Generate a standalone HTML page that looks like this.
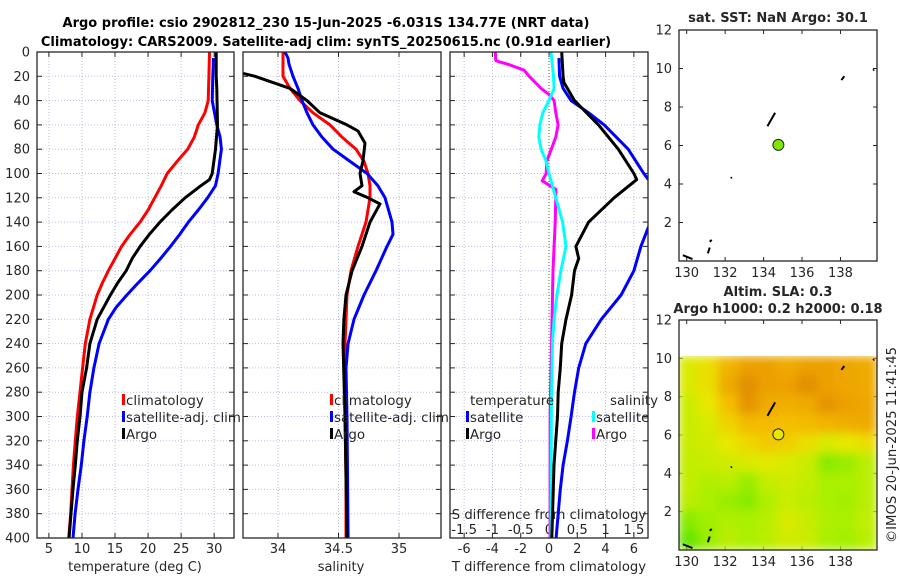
<!DOCTYPE html>
<html><head><meta charset="utf-8">
<style>
html,body{margin:0;padding:0;background:#fff;}
svg{display:block;font-family:"DejaVu Sans","Liberation Sans",sans-serif;}
</style></head>
<body>
<svg id="fig" width="900" height="580" viewBox="0 0 900 580" xmlns="http://www.w3.org/2000/svg">
<defs>
<clipPath id="c1"><rect x="37" y="52" width="197" height="486"/></clipPath>
<clipPath id="c2"><rect x="243" y="52" width="198" height="486"/></clipPath>
<clipPath id="c3"><rect x="450" y="52" width="198" height="486"/></clipPath>
<clipPath id="cm2"><rect x="679" y="356" width="198" height="194"/></clipPath>
<filter id="blur" x="0" y="0" width="1" height="1"><feGaussianBlur stdDeviation="5" edgeMode="duplicate"/></filter>
</defs>
<text x="326" y="27" text-anchor="middle" font-weight="bold" font-size="13">Argo profile: csio 2902812_230 15-Jun-2025 -6.031S 134.77E (NRT data)</text>
<text x="326" y="46" text-anchor="middle" font-weight="bold" font-size="13">Climatology: CARS2009. Satellite-adj clim: synTS_20250615.nc (0.91d earlier)</text>
<g id="g"></g>
</svg>
<script>
const depthTicks=[0,20,40,60,80,100,120,140,160,180,200,220,240,260,280,300,320,340,360,380,400];
const tTicks=[5,10,15,20,25,30];
const sTicks=[34,34.5,35];
const dtTicks=[-6,-4,-2,0,2,4,6];
const dsTicks=[-1.5,-1,-0.5,0,0.5,1,1.5];
const dsLabels=["-1.5","-1","-0.5","0","0.5","1","1.5"];

const climTDepth=[0,20,40,50,60,70,80,90,100,110,120,130,140,150,160,170,180,190,200,220,240,260,280,300,320,340,360,380,400];
const climT=[29.3,29.2,29.1,28.6,27.6,27.0,26.0,24.4,22.9,22.0,21.0,20.0,18.8,17.3,16.0,15.0,14.0,13.1,12.3,11.2,10.5,10.1,9.7,9.3,9.0,8.7,8.5,8.3,8.0];
const satTDepth=[5,20,40,60,70,80,100,110,120,130,140,150,160,170,180,190,200,210,220,240,260,280,300,320,340,360,380,400];
const satT=[29.9,29.8,29.7,30.4,30.9,31.1,30.6,30.2,29.0,27.6,26.1,24.8,23.4,21.9,20.3,18.5,16.8,15.2,14.0,12.6,11.8,11.2,10.8,10.3,9.9,9.4,8.96,8.65];
const argoTDepth=[0,20,30,60,80,100,105,110,120,130,140,150,160,170,180,190,200,220,240,260,280,300,320,340,360,380,400];
const argoT=[30.3,30.3,30.4,30.5,30.2,29.7,29.3,28.0,25.6,23.6,21.8,20.2,18.8,17.6,16.7,15.4,14.3,12.3,11.2,10.7,10.0,9.7,9.3,9.0,8.65,8.35,8.05];

const climSDepth=[0,20,30,40,50,60,70,80,90,100,110,120,140,160,180,200,220,240,260,280,300,350,400];
const climS=[34.041,34.041,34.099,34.182,34.289,34.430,34.529,34.645,34.711,34.744,34.760,34.760,34.727,34.661,34.603,34.570,34.562,34.554,34.554,34.554,34.554,34.562,34.562];
const satSDepth=[0,5,10,20,30,40,50,60,70,80,90,100,110,120,140,150,160,180,200,220,240,260,300,400];
const satS=[34.058,34.083,34.091,34.124,34.165,34.198,34.240,34.289,34.364,34.455,34.595,34.736,34.826,34.884,34.942,34.950,34.901,34.810,34.711,34.628,34.579,34.562,34.570,34.579];
const argoSDepth=[16,20,30,40,50,60,65,75,90,100,110,115,120,125,140,160,180,200,220,240,300,400];
const argoS=[33.645,33.810,34.099,34.240,34.347,34.570,34.661,34.719,34.702,34.678,34.694,34.628,34.744,34.843,34.760,34.694,34.612,34.562,34.545,34.537,34.554,34.570];

const dTArgoDepth=[0,20,25,40,60,80,100,105,120,140,160,170,180,200,220,240,260,280,300,340,400];
const dTArgo=[0.9,1.0,1.05,1.8,3.5,4.9,6.0,6.2,4.6,2.8,1.9,2.1,1.8,1.6,1.2,0.9,0.8,0.65,0.6,0.35,0.2];
const dTSatDepth=[5,20,30,40,50,60,80,100,106,125,145,160,180,200,220,240,260,280,300,320,340,360,400];
const dTSat=[0.7,0.75,1.0,1.56,2.8,3.9,5.6,6.7,7.1,7.8,7.0,6.5,6.0,5.1,3.7,2.6,2.1,1.8,1.56,1.3,1.0,0.8,0.5];
const dSSatDepth=[0,20,30,40,50,60,70,80,90,100,120,140,160,180,200,220,240,300,400];
const dSSat=[0.035,0.08,0.09,0.0,-0.11,-0.16,-0.18,-0.14,-0.05,0.0,0.12,0.24,0.3,0.21,0.14,0.09,0.06,0.04,0.035];
const dSArgoDepth=[0,7,8,10,15,20,30,35,40,50,60,70,80,90,100,106,113,120,140,180,300,400];
const dSArgo=[-0.95,-0.94,-0.89,-0.73,-0.44,-0.35,-0.14,0.0,0.09,0.12,0.16,0.12,0.04,-0.04,-0.05,-0.12,0.12,0.12,0.11,0.07,0.02,0.02];

const mapLatTicks=[2,4,6,8,10,12];
const mapLonTicks=[130,132,134,136,138];
const argoLon=134.77, argoLat=6.031;
const slaGrid=[
[0.45,0.55,0.75,0.85,0.85,0.80,0.85,0.85,0.82,0.80],
[0.45,0.55,0.80,0.92,0.85,0.85,0.92,0.85,0.82,0.80],
[0.40,0.50,0.70,0.90,0.80,0.78,0.80,0.90,0.85,0.82],
[0.40,0.45,0.60,0.72,0.72,0.70,0.72,0.75,0.78,0.80],
[0.40,0.42,0.50,0.58,0.65,0.62,0.55,0.45,0.50,0.55],
[0.38,0.40,0.42,0.45,0.48,0.45,0.40,0.20,0.25,0.35],
[0.38,0.32,0.35,0.25,0.38,0.42,0.38,0.30,0.30,0.35],
[0.35,0.30,0.25,0.20,0.32,0.40,0.35,0.30,0.28,0.35],
[0.20,0.28,0.32,0.30,0.35,0.45,0.40,0.32,0.30,0.38],
[0.10,0.25,0.35,0.30,0.35,0.42,0.40,0.30,0.28,0.35]];

const NS="http://www.w3.org/2000/svg";
const G=document.getElementById('g');
function mk(tag,attrs,parent){const e=document.createElementNS(NS,tag);for(const k in attrs)e.setAttribute(k,attrs[k]);(parent||G).appendChild(e);return e;}
function txt(s,x,y,attrs,parent){const e=mk('text',Object.assign({x:x,y:y,'font-size':13,fill:'#262626'},attrs||{}),parent);e.textContent=s;return e;}

const Y0=52,Y1=538;
const yD=d=>Y0+(d/400)*(Y1-Y0);
function lin(d0,d1,p0,p1){return v=>p0+(v-d0)/(d1-d0)*(p1-p0);}
const xT=lin(3.2,33,37,234);
const xS=lin(34,35,278,399);
const xDT=lin(-7,7,450,648);
const xDS=lin(-1.75,1.75,450,648);

function panel(name,x0,x1,xticks,xfn,labels,ylabels){
  const g=mk('g',{});
  
  
  depthTicks.forEach(d=>{const l=mk('line',{x1:x0,x2:x1,y1:yD(d),y2:yD(d),stroke:'#b8bde0','stroke-width':1,'stroke-dasharray':'1,2'},g);
    
    mk('line',{x1:x0,x2:x0+5,y1:yD(d),y2:yD(d),stroke:'#262626'},g);
    mk('line',{x1:x1-5,x2:x1,y1:yD(d),y2:yD(d),stroke:'#262626'},g);
    if(ylabels){const t=txt(String(d),30,yD(d)+4.5,{'text-anchor':'end'},g);}
  });
  xticks.forEach((v,i)=>{const x=xfn(v);
    const l=mk('line',{x1:x,x2:x,y1:Y0,y2:Y1,stroke:'#b8bde0','stroke-width':1,'stroke-dasharray':'1,2'},g);
    
    mk('line',{x1:x,x2:x,y1:Y1-5,y2:Y1,stroke:'#262626'},g);
    mk('line',{x1:x,x2:x,y1:Y0,y2:Y0+5,stroke:'#262626'},g);
    const t=txt(labels?labels[i]:String(v),x,553,{'text-anchor':'middle'},g);
    
  });
  return g;
}
function series(name,depths,vals,xfn,color,clip){
  const pts=depths.map((d,i)=>xfn(vals[i]).toFixed(1)+','+yD(d).toFixed(1)).join(' ');
  const p=mk('polyline',{points:pts,fill:'none',stroke:color,'stroke-width':3,'stroke-linejoin':'round','clip-path':'url(#'+clip+')'});
  
  
}
function box(name,x0,y0,x1,y1){const r=mk('rect',{x:x0,y:y0,width:x1-x0,height:y1-y0,fill:'none',stroke:'#262626','stroke-width':1.3});
  }
function leg(name,x,y,color,label){
  const b=mk('rect',{x:x,y:y-6,width:3,height:11,fill:color});
  
  const t=txt(label,x+4,y+5,{'font-size':13.4},G);
  
}

panel('temperature-panel',37,234,tTicks,xT,null,true);
series('climatology-temperature-line',climTDepth,climT,xT,'#ff0000','c1');
series('satellite-temperature-line',satTDepth,satT,xT,'#0000ff','c1');
series('argo-temperature-line',argoTDepth,argoT,xT,'#000000','c1');
box('temperature-axes',37,52,234,538);
leg('legend-climatology',122,400,'#ff0000','climatology');
leg('legend-satellite-adj-clim',122,417,'#0000ff','satellite-adj. clim');
leg('legend-argo',122,434,'#000000','Argo');
let t=txt('temperature (deg C)',135,571,{'text-anchor':'middle','font-size':13});


panel('salinity-panel',243,441,sTicks,xS,['34','34.5','35'],false);
series('climatology-salinity-line',climSDepth,climS,xS,'#ff0000','c2');
series('satellite-salinity-line',satSDepth,satS,xS,'#0000ff','c2');
series('argo-salinity-line',argoSDepth,argoS,xS,'#000000','c2');
box('salinity-axes',243,52,441,538);
leg('legend-s-climatology',330,400,'#ff0000','climatology');
leg('legend-s-satellite-adj-clim',330,417,'#0000ff','satellite-adj. clim');
leg('legend-s-argo',330,434,'#000000','Argo');
t=txt('salinity',341,571,{'text-anchor':'middle','font-size':13});


panel('difference-panel',450,648,dtTicks,xDT,null,false);
t=txt('S difference from climatology',549,519,{'text-anchor':'middle','font-size':13.2});

dsTicks.forEach((v,i)=>{const e=txt(dsLabels[i],xDS(v),534,{'text-anchor':'middle','font-size':13.2});
  });
const zl=mk('line',{x1:xDT(0),x2:xDT(0),y1:Y0,y2:Y1,stroke:'#556b2f','stroke-width':1,'stroke-dasharray':'1,2'});

series('salinity-diff-argo-line',dSArgoDepth,dSArgo,xDS,'#ff00ff','c3');
series('salinity-diff-satellite-line',dSSatDepth,dSSat,xDS,'#00ffff','c3');
series('temperature-diff-satellite-line',dTSatDepth,dTSat,xDT,'#0000ff','c3');
series('temperature-diff-argo-line',dTArgoDepth,dTArgo,xDT,'#000000','c3');
box('difference-axes',450,52,648,538);
t=txt('temperature',470,405,{'font-size':13.4});
t=txt('salinity',610,405,{'font-size':13.4});
leg('legend-t-satellite',466,417,'#0000ff','satellite');
leg('legend-t-argo',466,434,'#000000','Argo');
leg('legend-s-satellite',592,417,'#00ffff','satellite');
leg('legend-s-argo-diff',592,434,'#ff00ff','Argo');
t=txt('T difference from climatology',549,571,{'text-anchor':'middle','font-size':13.2});


const MX0=679,MX1=877;
const mLon=lin(129.6,139.9,MX0,MX1);
function mapAxes(name,top,bottom){
  const mLat=lin(0,12,bottom,top);
  const g=mk('g',{});
  mapLatTicks.forEach(v=>{const y=mLat(v);
    mk('line',{x1:MX0,x2:MX0+4,y1:y,y2:y,stroke:'#262626'},g);
    mk('line',{x1:MX1-4,x2:MX1,y1:y,y2:y,stroke:'#262626'},g);
    const e=txt(String(v),672,y+4.5,{'text-anchor':'end'},g);});
  mapLonTicks.forEach(v=>{const x=mLon(v);
    mk('line',{x1:x,x2:x,y1:bottom-4,y2:bottom,stroke:'#262626'},g);
    mk('line',{x1:x,x2:x,y1:top,y2:top+4,stroke:'#262626'},g);
    const e=txt(String(v),x,bottom+16,{'text-anchor':'middle'},g);});
  return mLat;
}
function coast(mLat,g){
  const bits=[[134.2,7.0,134.6,7.7],[138.05,9.4,138.2,9.6],[139.7,9.9,139.75,9.95],[132.3,4.3,132.35,4.35],[129.8,0.3,130.3,0.1],[131.1,0.4,131.2,0.7],[131.2,1.0,131.3,1.1]];
  bits.forEach(b=>{const l=mk('line',{x1:mLon(b[0]),y1:mLat(b[1]),x2:mLon(b[2]),y2:mLat(b[3]),stroke:'#000','stroke-width':2},g);
    });
}
t=txt('sat. SST: NaN Argo: 30.1',778,22,{'text-anchor':'middle','font-weight':'bold','font-size':13});

const lat1=mapAxes('sst-map',30,261);
coast(lat1,G);
let c=mk('circle',{cx:mLon(argoLon),cy:lat1(argoLat),r:5.5,fill:'#80e600',stroke:'#222','stroke-width':1});

box('sst-map-axes',MX0,30,MX1,261);

t=txt('Altim. SLA: 0.3',778,296,{'text-anchor':'middle','font-weight':'bold','font-size':13});

t=txt('Argo h1000: 0.2 h2000: 0.18',778,313,{'text-anchor':'middle','font-weight':'bold','font-size':13});

const lat2=mapAxes('sla-map',320,550);
function cmap(v){const stops=[[0,[70,224,0]],[0.3,[170,240,0]],[0.5,[232,232,0]],[0.7,[245,190,0]],[0.85,[236,160,0]],[1,[215,125,0]]];
  for(let i=1;i<stops.length;i++){if(v<=stops[i][0]){const a=stops[i-1],b=stops[i],f=(v-a[0])/(b[0]-a[0]);
    return 'rgb('+a[1].map((c,k)=>Math.round(c+(b[1][k]-c)*f)).join(',')+')';}}return 'rgb(215,125,0)';}
const hm=mk('g',{'clip-path':'url(#cm2)'});

const hmi=mk('g',{filter:'url(#blur)'},hm);
const nR=slaGrid.length,nC=slaGrid[0].length;
const lon0=129.6,lon1=139.9,latTop=10.1,latBot=0;
slaGrid.forEach((row,r)=>row.forEach((v,col)=>{
  const xa=mLon(lon0+(lon1-lon0)*col/nC),xb=mLon(lon0+(lon1-lon0)*(col+1)/nC);
  const ya=lat2(latTop-(latTop-latBot)*r/nR),yb=lat2(latTop-(latTop-latBot)*(r+1)/nR);
  const cell=mk('rect',{x:xa-0.5,y:ya-0.5,width:xb-xa+1,height:yb-ya+1,fill:cmap(v)},hmi);
  
}));
coast(lat2,G);
c=mk('circle',{cx:mLon(argoLon),cy:lat2(argoLat),r:5.5,fill:'#e6e600',stroke:'#222','stroke-width':1});

box('sla-map-axes',MX0,320,MX1,550);

t=txt('©IMOS 20-Jun-2025 11:41:45',0,0,{'text-anchor':'middle','font-size':13.2,transform:'translate(896,445) rotate(-90)'});

</script>
</body></html>
